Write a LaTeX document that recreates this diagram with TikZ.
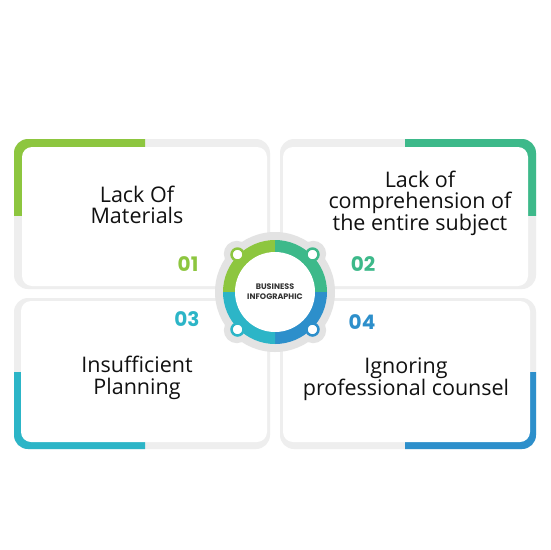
\documentclass[tikz,border=0pt]{standalone}
\usepackage{fontspec}
\setmainfont{Open Sans}
\newfontfamily\numfont{Poppins Bold}
\usetikzlibrary{positioning,calc}
\definecolor{lime}{HTML}{8DC63F}
\definecolor{mint}{HTML}{3DB98A}
\definecolor{aqua}{HTML}{2CB5C7}
\definecolor{ocean}{HTML}{2D8FCB}
\definecolor{frame}{HTML}{EEEEEE}
\definecolor{halo}{HTML}{E3E3E3}
\definecolor{ink}{HTML}{111111}
\definecolor{core}{HTML}{333333}

\begin{document}
\begin{tikzpicture}[x=1pt,y=-1pt,
  shell/.style={fill=frame,rounded corners=14pt},
  face/.style={fill=white,rounded corners=10pt},
  lbl/.style={font=\fontsize{21.5}{21.5}\selectfont,text=ink,align=center},
  num/.style={font=\numfont\fontsize{20}{20}\selectfont}
]
\useasboundingbox (0,0) rectangle (550,550);
\fill[white] (0,0) rectangle (550,550);

\fill[shell] (14,139) rectangle (270,289);
\begin{scope}
  \clip (0,0) rectangle (145,215);
  \fill[lime,rounded corners=14pt] (14,139) rectangle (270,289);
\end{scope}
\fill[face] (22,147) rectangle (267,286);

\fill[shell] (280,139) rectangle (536,289);
\begin{scope}
  \clip (405,0) rectangle (550,215);
  \fill[mint,rounded corners=14pt] (280,139) rectangle (536,289);
\end{scope}
\fill[face] (283,147) rectangle (528,286);

\fill[shell] (14,298) rectangle (270,449);
\begin{scope}
  \clip (0,372) rectangle (145,550);
  \fill[aqua,rounded corners=14pt] (14,298) rectangle (270,449);
\end{scope}
\fill[face] (21,301) rectangle (267,442);

\fill[shell] (280,298) rectangle (536,449);
\begin{scope}
  \clip (405,372) rectangle (550,550);
  \fill[ocean,rounded corners=14pt] (280,298) rectangle (536,449);
\end{scope}
\fill[face] (283,301) rectangle (530,442);

\node[lbl] (t1) at (137,205) {Lack Of\\Materials};
\node[lbl] (t2) at (420,203) {Lack of\\comprehension of\\the entire subject};
\node[lbl] (t3) at (137,378) {Insufficient\\Planning};
\node[lbl] (t4) at (406,379) {Ignoring\\professional counsel};

\node[num,text=lime] (n1) at (188,264) {01};
\node[num,text=mint] (n2) at (363,264) {02};
\node[num,text=aqua] (n3) at (187,319) {03};
\node[num,text=ocean] (n4) at (362,322) {04};

\coordinate (c) at (275,292);
\fill[halo] (c) circle[radius=60];
\foreach \a in {45,135,225,315}
  \fill[halo] ($(c)+(\a:54)$) circle[radius=13];
\fill[lime] (c) -- ++(180:52) arc[start angle=180,end angle=270,radius=52] -- cycle;
\fill[mint] (c) -- ++(270:52) arc[start angle=270,end angle=360,radius=52] -- cycle;
\fill[ocean] (c) -- ++(0:52) arc[start angle=0,end angle=90,radius=52] -- cycle;
\fill[aqua] (c) -- ++(90:52) arc[start angle=90,end angle=180,radius=52] -- cycle;
\foreach \a/\col in {225/lime,315/mint,45/ocean,135/aqua}
  \filldraw[draw=\col,line width=2.5pt,fill=white] ($(c)+(\a:53)$) circle[radius=6];
\node[circle,fill=white,minimum size=80pt,inner sep=0pt,align=center,
  text=core,font=\numfont\fontsize{8}{10}\selectfont] (hub) at (c)
  {BUSINESS\\INFOGRAPHIC};
\end{tikzpicture}
\end{document}
